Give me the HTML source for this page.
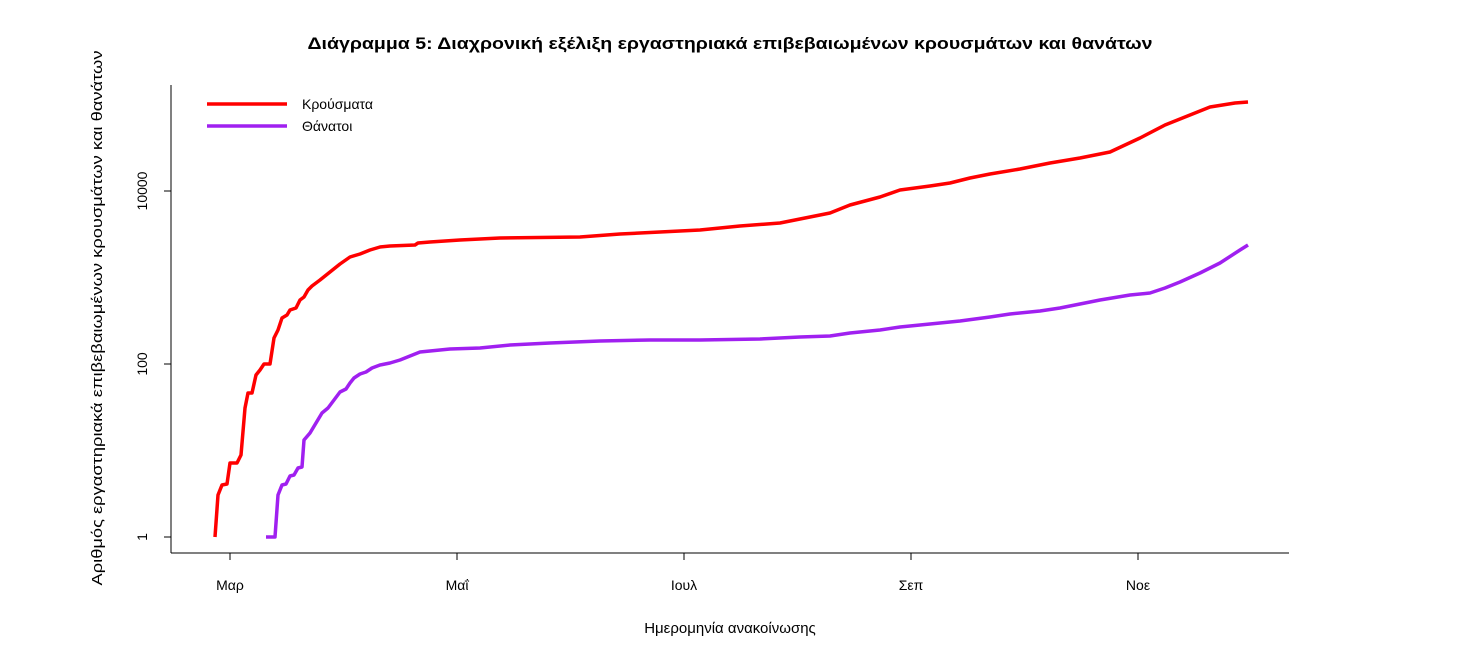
<!DOCTYPE html>
<html><head><meta charset="utf-8"><style>body{margin:0;background:#fff}svg{display:block}</style></head>
<body>
<svg width="1468" height="666" viewBox="0 0 1468 666" xmlns="http://www.w3.org/2000/svg" font-family="Liberation Sans, DejaVu Sans, sans-serif">
<text x="730" y="49" text-anchor="middle" font-size="17" font-weight="bold" textLength="845" lengthAdjust="spacingAndGlyphs">Διάγραμμα 5: Διαχρονική εξέλιξη εργαστηριακά επιβεβαιωμένων κρουσμάτων και θανάτων</text>
<g stroke="#000" stroke-width="1" fill="none">
<line x1="171" y1="85" x2="171" y2="553"/>
<line x1="171" y1="553" x2="1289" y2="553"/>
<line x1="164" y1="537" x2="171" y2="537"/><line x1="164" y1="364" x2="171" y2="364"/><line x1="164" y1="191" x2="171" y2="191"/>
<line x1="230" y1="553" x2="230" y2="560"/><line x1="457" y1="553" x2="457" y2="560"/><line x1="684" y1="553" x2="684" y2="560"/><line x1="911" y1="553" x2="911" y2="560"/><line x1="1138" y1="553" x2="1138" y2="560"/>
</g>
<g font-size="14" text-anchor="middle">
<text x="230" y="590">Μαρ</text><text x="457" y="590">Μαΐ</text><text x="684" y="590">Ιουλ</text><text x="911" y="590">Σεπ</text><text x="1138" y="590">Νοε</text>
<text transform="translate(147,537) rotate(-90)">1</text>
<text transform="translate(147,364) rotate(-90)">100</text>
<text transform="translate(147,191) rotate(-90)">10000</text>
<text x="730" y="633" font-size="15">Ημερομηνία ανακοίνωσης</text>
<text transform="translate(102,318) rotate(-90)" font-size="15" textLength="535" lengthAdjust="spacingAndGlyphs">Αριθμός εργαστηριακά επιβεβαιωμένων κρουσμάτων και θανάτων</text>
</g>
<g fill="none" stroke-width="3.5" stroke-linejoin="round">
<polyline stroke="#ff0000" points="215,537 218,495 222,485 227,484 230,463 237,463 241,455 245,408 248,393 252,393 256,375 260,370 264,364 270,364 274,338 278,330 282,318 287,315 290,310 296,308 300,300 304,297 308,290 312,286 320,280 330,272 340,264 350,257 360,254 370,250 380,247 390,246 415,245 418,243 430,242 460,240 500,238 580,237 620,234 660,232 700,230 740,226 780,223 800,219 830,213 850,205 880,197 900,190 930,186 950,183 970,178 990,174 1020,169 1050,163 1080,158 1110,152 1140,138 1165,125 1190,115 1210,107 1235,103 1248,102"/>
<polyline stroke="#a020f0" points="266,537 275,537 278,495 282,485 286,484 290,476 294,475 298,468 302,467 304,440 310,433 316,423 322,413 328,408 334,400 340,392 346,389 350,383 354,378 360,374 366,372 372,368 380,365 390,363 400,360 410,356 420,352 430,351 450,349 480,348 510,345 550,343 600,341 650,340 700,340 760,339 800,337 830,336 850,333 880,330 900,327 930,324 960,321 990,317 1010,314 1040,311 1060,308 1080,304 1100,300 1130,295 1150,293 1165,288 1180,282 1200,273 1220,263 1240,250 1248,245"/>
<line x1="207" y1="104" x2="287" y2="104" stroke="#ff0000"/>
<line x1="207" y1="126" x2="287" y2="126" stroke="#a020f0"/>
</g>
<g font-size="14"><text x="302" y="109">Κρούσματα</text><text x="302" y="131">Θάνατοι</text></g>
</svg>
</body></html>
